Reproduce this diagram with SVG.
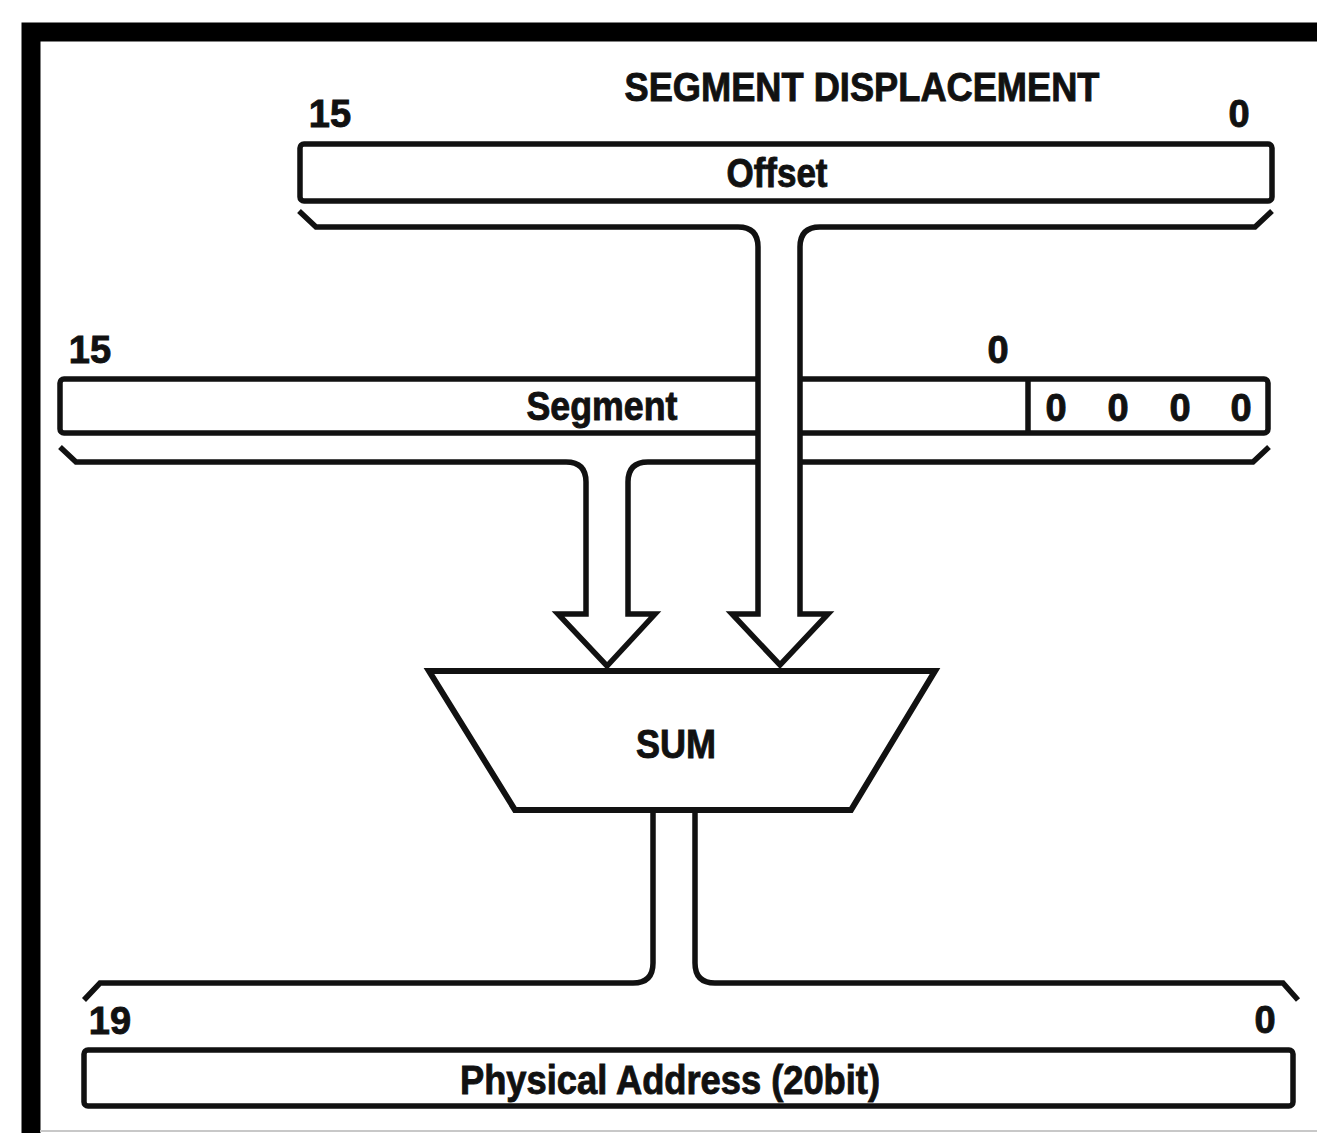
<svg xmlns="http://www.w3.org/2000/svg" width="1317" height="1133" viewBox="0 0 1317 1133">
<style>
.t{font-family:"Liberation Sans",Arial,sans-serif;font-weight:bold;fill:#111;stroke:#111;stroke-width:0.9;}
.lbl{font-size:40px;text-anchor:middle;}
.num{font-size:38px;text-anchor:middle;}
.box{fill:#fff;stroke:#111;stroke-width:5.5;}
.conn{fill:#fff;stroke:#111;stroke-width:5.5;stroke-linejoin:miter;stroke-miterlimit:10;}
</style>
<rect x="0" y="0" width="1317" height="1133" fill="#fff"/>
<g id="frame">
<path d="M31 1133 L31 32 L1317 32" fill="none" stroke="#000" stroke-width="19"/>
<line x1="40" y1="1131" x2="1317" y2="1131" stroke="#c8c8c8" stroke-width="2"/>
</g>
<text class="t" x="862" y="101" font-size="40" text-anchor="middle" textLength="475" lengthAdjust="spacingAndGlyphs">SEGMENT DISPLACEMENT</text>
<g id="offset">
<text class="t num" x="330" y="127">15</text>
<text class="t num" x="1239" y="127">0</text>
<rect class="box" x="300" y="144" width="972" height="57" rx="4"/>
<text class="t lbl" x="777" y="187" textLength="101" lengthAdjust="spacingAndGlyphs">Offset</text>
</g>
<g id="segment">
<text class="t num" x="90" y="363">15</text>
<text class="t num" x="998" y="363">0</text>
<rect class="box" x="60" y="379" width="1208" height="54" rx="4"/>
<line x1="1028" y1="379" x2="1028" y2="433" stroke="#111" stroke-width="5.5"/>
<text class="t lbl" x="602" y="420" textLength="151" lengthAdjust="spacingAndGlyphs">Segment</text>
<text class="t num" x="1056" y="421">0</text>
<text class="t num" x="1118" y="421">0</text>
<text class="t num" x="1180" y="421">0</text>
<text class="t num" x="1241" y="421">0</text>
</g>
<g id="connectors">
<path class="conn" d="M60 447 L76 462 L566 462 Q586 462 586 482 L586 614 L558 614 L607 666 L655 614 L628 614 L628 482 Q628 462 648 462 L1253 462 L1269 447"/>
<path class="conn" d="M299 211 L316 227 L738 227 Q758 227 758 247 L758 614 L732 614 L780 665 L828 614 L800 614 L800 247 Q800 227 820 227 L1255 227 L1272 211"/>
<path class="conn" style="fill:none" d="M84 1000 L100 983 L633 983 Q653 983 653 963 L653 810 M695 810 L695 963 Q695 983 715 983 L1283 983 L1298 1000"/>
</g>
<g id="sum">
<path d="M429 671 L935 671 L851 810 L515 810 Z" fill="#fff" stroke="#111" stroke-width="6" stroke-linejoin="miter"/>
<text class="t lbl" x="676" y="758" textLength="80" lengthAdjust="spacingAndGlyphs">SUM</text>
</g>
<g id="physical">
<text class="t num" x="110" y="1034">19</text>
<text class="t num" x="1265" y="1033">0</text>
<rect class="box" x="84" y="1050" width="1209" height="56" rx="4"/>
<text class="t lbl" x="670" y="1094" font-size="38" textLength="420" lengthAdjust="spacingAndGlyphs">Physical Address (20bit)</text>
</g>
</svg>
